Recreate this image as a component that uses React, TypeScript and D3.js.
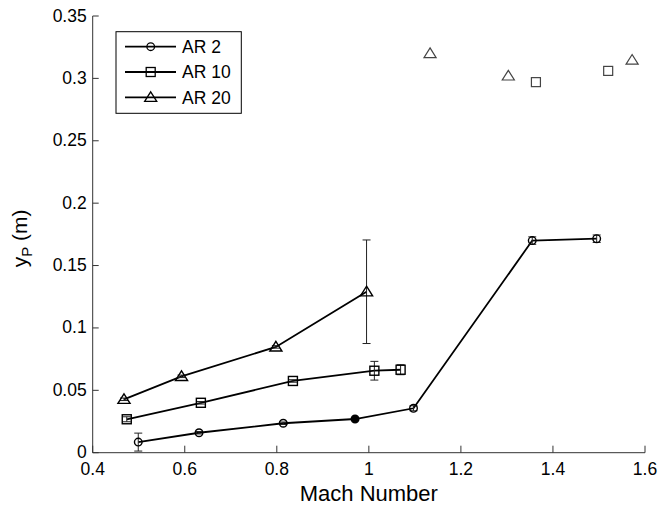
import React from "react";
import * as d3 from "d3";

const W = 658;
const H = 508;
const M = { left: 92.7, right: 13, top: 16, bottom: 55.3 };

const xTicks = [0.4, 0.6, 0.8, 1, 1.2, 1.4, 1.6];
const yTicks = [0, 0.05, 0.1, 0.15, 0.2, 0.25, 0.3, 0.35];

// AR 2 (circles)
const ar2Mach = [0.499, 0.631, 0.814, 0.97, 1.097, 1.355, 1.495];
const ar2Y = [0.0085, 0.016, 0.0236, 0.027, 0.0356, 0.17, 0.1715];
const ar2Err = [0.0072, 0.001, 0.001, 0.001, 0.002, 0.003, 0.003];

// AR 10 (squares)
const ar10Mach = [0.474, 0.635, 0.835, 1.012, 1.069];
const ar10Y = [0.0268, 0.04, 0.0575, 0.0657, 0.0665];
const ar10Err = [0.002, 0.001, 0.001, 0.0075, 0.004];

// AR 20 (triangles)
const ar20Mach = [0.468, 0.593, 0.798, 0.995];
const ar20Y = [0.0428, 0.0612, 0.0848, 0.129];
const ar20Err = [0.001, 0.001, 0.001, 0.0415];

// isolated open markers
const soloSqMach = [1.363, 1.52];
const soloSqY = [0.297, 0.306];
const soloTriMach = [1.133, 1.303, 1.572];
const soloTriY = [0.32, 0.302, 0.3147];

const FONT = "Liberation Sans, Arial, sans-serif";

function Marker({ kind, x, y, fill = "none", stroke = "#000", sw = 1.2 }: any) {
  if (kind === "circle") return <circle cx={x} cy={y} r={3.8} fill={fill} stroke={stroke} strokeWidth={sw} />;
  if (kind === "square") return <rect x={x - 4.5} y={y - 4.5} width={9} height={9} fill={fill} stroke={stroke} strokeWidth={sw} />;
  const s = 5.5;
  return (
    <path
      d={`M${x},${y - s} L${x + s * 1.1},${y + s * 0.75} L${x - s * 1.1},${y + s * 0.75} Z`}
      fill={fill}
      stroke={stroke}
      strokeWidth={sw}
    />
  );
}

export default function App() {
  const x = d3.scaleLinear().domain([0.4, 1.6]).range([M.left, W - M.right]);
  const y = d3.scaleLinear().domain([0, 0.35]).range([H - M.bottom, M.top]);
  const line = d3
    .line<[number, number]>()
    .x((d) => x(d[0]))
    .y((d) => y(d[1]));

  const series = [
    { kind: "circle", mx: ar2Mach, my: ar2Y, err: ar2Err },
    { kind: "square", mx: ar10Mach, my: ar10Y, err: ar10Err },
    { kind: "triangle", mx: ar20Mach, my: ar20Y, err: ar20Err },
  ];

  const x0 = x(0.4);
  const y0 = y(0);

  return (
    <svg width={W} height={H} style={{ position: "absolute", left: 0, top: 0, background: "#fff" }} fontFamily={FONT}>
      <rect width={W} height={H} fill="#fff" />
      {/* axes */}
      <line x1={x0} x2={x(1.6)} y1={y0} y2={y0} stroke="#333" strokeWidth={1} />
      <line x1={x0} x2={x0} y1={y0} y2={y(0.35)} stroke="#333" strokeWidth={1} />
      {xTicks.map((t) => (
        <g key={"x" + t}>
          <line x1={x(t)} x2={x(t)} y1={y0} y2={y0 - 7} stroke="#333" />
          <text x={x(t)} y={y0 + 22} textAnchor="middle" fontSize={17.5} fill="#000">
            {t === 1 ? "1" : t.toString()}
          </text>
        </g>
      ))}
      {yTicks.map((t) => (
        <g key={"y" + t}>
          <line x1={x0} x2={x0 + 6} y1={y(t)} y2={y(t)} stroke="#333" />
          <text x={x0 - 6} y={y(t) + 5.5} textAnchor="end" fontSize={17.5} fill="#000">
            {t === 0 ? "0" : t.toString()}
          </text>
        </g>
      ))}
      <text x={(x0 + x(1.6)) / 2} y={H - 7} textAnchor="middle" fontSize={22} fill="#000">
        Mach Number
      </text>
      <text transform={`translate(27,${(y0 + y(0.35)) / 2 + 4}) rotate(-90)`} textAnchor="middle" fontSize={21} fill="#000">
        y<tspan fontSize={15} dy={5}>P</tspan>
        <tspan dy={-5}> (m)</tspan>
      </text>

      {/* lines */}
      {series.map((s, i) => (
        <path
          key={"l" + i}
          d={line(s.mx.map((m, j) => [m, s.my[j]]) as [number, number][]) || ""}
          fill="none"
          stroke="#000"
          strokeWidth={1.8}
        />
      ))}
      {/* error bars */}
      {series.map((s, i) =>
        s.mx.map((m, j) => {
          const cx = x(m);
          const t = y(s.my[j] + s.err[j]);
          const b = y(s.my[j] - s.err[j]);
          return (
            <g key={`e${i}-${j}`} stroke="#222" strokeWidth={1}>
              <line x1={cx} x2={cx} y1={t} y2={b} />
              <line x1={cx - 4} x2={cx + 4} y1={t} y2={t} />
              <line x1={cx - 4} x2={cx + 4} y1={b} y2={b} />
            </g>
          );
        })
      )}
      {/* markers */}
      {series.map((s, i) =>
        s.mx.map((m, j) => (
          <Marker
            key={`m${i}-${j}`}
            kind={s.kind}
            x={x(m)}
            y={y(s.my[j])}
            fill={i === 0 && j === 3 ? "#000" : "none"}
            sw={1.4}
          />
        ))
      )}
      {soloSqMach.map((m, j) => (
        <Marker key={"sq" + j} kind="square" x={x(m)} y={y(soloSqY[j])} stroke="#444" sw={1.2} />
      ))}
      {soloTriMach.map((m, j) => (
        <Marker key={"tr" + j} kind="triangle" x={x(m)} y={y(soloTriY[j])} stroke="#444" sw={1.2} />
      ))}

      {/* legend */}
      <g>
        <rect x={116} y={31.7} width={125.3} height={81.6} fill="#fff" stroke="#000" strokeWidth={1} />
        {["AR 2", "AR 10", "AR 20"].map((lab, i) => {
          const ly = 46.7 + i * 25.3;
          const kind = ["circle", "square", "triangle"][i];
          return (
            <g key={lab}>
              <line x1={125} x2={176} y1={ly} y2={ly} stroke="#000" strokeWidth={1.8} />
              <Marker kind={kind} x={150.7} y={ly} sw={1.3} />
              <text x={182} y={ly + 6.3} fontSize={17.5} fill="#000">
                {lab}
              </text>
            </g>
          );
        })}
      </g>
    </svg>
  );
}
